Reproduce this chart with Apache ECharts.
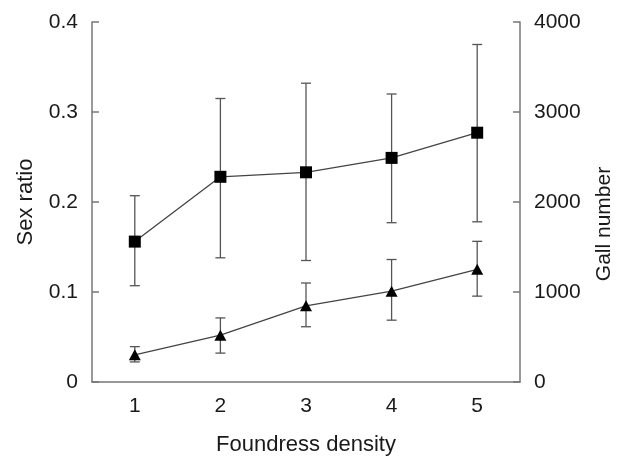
<!DOCTYPE html>
<html>
<head>
<meta charset="utf-8">
<script src="https://cdn.jsdelivr.net/npm/echarts@6/dist/echarts.min.js"></script>
<style>
  html, body { margin: 0; padding: 0; background: #fff; }
  #chart { width: 623px; height: 461px; }
</style>
</head>
<body>
<div id="chart"></div>
<script>
// foundress density on x
const categories = ['1', '2', '3', '4', '5'];
// squares, left axis
const sexRatio = [0.156, 0.228, 0.233, 0.249, 0.277];
const sexRatioLow = [0.107, 0.138, 0.135, 0.177, 0.178];
const sexRatioHigh = [0.207, 0.315, 0.332, 0.320, 0.375];
// triangles, right axis
const gallNumber = [302, 520, 846, 1009, 1252];
const gallLow = [223, 321, 614, 687, 954];
const gallHigh = [393, 712, 1100, 1361, 1563];

const font = 'Liberation Sans, Arial, sans-serif';
const axisColor = '#777';
const textColor = '#1a1a1a';

const chart = echarts.init(document.getElementById('chart'));

// draws a vertical bar with caps for each category
function errorBar(params, api) {
  const lo = api.coord([api.value(0), api.value(1)]);
  const hi = api.coord([api.value(0), api.value(2)]);
  const w = 5;
  const style = { stroke: '#555', lineWidth: 1.3 };
  return {
    type: 'group',
    children: [
      { type: 'line', shape: { x1: lo[0], y1: lo[1], x2: hi[0], y2: hi[1] }, style: style },
      { type: 'line', shape: { x1: lo[0] - w, y1: lo[1], x2: lo[0] + w, y2: lo[1] }, style: style },
      { type: 'line', shape: { x1: hi[0] - w, y1: hi[1], x2: hi[0] + w, y2: hi[1] }, style: style }
    ]
  };
}

const yAxisBase = {
  type: 'value',
  nameLocation: 'middle',
  nameTextStyle: { fontFamily: font, fontSize: 22, color: textColor },
  axisLine: { show: true, lineStyle: { color: axisColor, width: 1.5 } },
  axisTick: { show: true, inside: true, length: 7, lineStyle: { color: axisColor, width: 1.5 } },
  axisLabel: { fontFamily: font, fontSize: 21, color: textColor, margin: 14 },
  splitLine: { show: false }
};

chart.setOption({
  animation: false,
  grid: { left: 92, right: 102, top: 22, bottom: 72 },
  xAxis: {
    type: 'category',
    data: categories,
    boundaryGap: true,
    name: 'Foundress density',
    nameLocation: 'middle',
    nameGap: 52,
    nameTextStyle: { fontFamily: font, fontSize: 22, color: textColor },
    axisLine: { lineStyle: { color: axisColor, width: 1.5 } },
    axisTick: { inside: true, length: 7, interval: 0, lineStyle: { color: axisColor, width: 1.5 } },
    axisLabel: { fontFamily: font, fontSize: 21, color: textColor, margin: 14 }
  },
  yAxis: [
    Object.assign({}, yAxisBase, {
      name: 'Sex ratio', nameGap: 55, min: 0, max: 0.4, interval: 0.1, position: 'left'
    }),
    Object.assign({}, yAxisBase, {
      name: 'Gall number', nameGap: 74, min: 0, max: 4000, interval: 1000, position: 'right',
      nameTextStyle: { fontFamily: font, fontSize: 21, color: textColor, padding: [0, 44, 0, 0] },
      axisLabel: { fontFamily: font, fontSize: 21, color: textColor, margin: 14, formatter: v => String(v) }
    })
  ],
  series: [
    {
      type: 'custom',
      yAxisIndex: 0,
      renderItem: errorBar,
      data: categories.map((c, i) => [i, sexRatioLow[i], sexRatioHigh[i]]),
      z: 1
    },
    {
      type: 'custom',
      yAxisIndex: 1,
      renderItem: errorBar,
      data: categories.map((c, i) => [i, gallLow[i], gallHigh[i]]),
      z: 1
    },
    {
      name: 'Sex ratio',
      type: 'line',
      yAxisIndex: 0,
      data: sexRatio,
      symbol: 'rect',
      symbolSize: 12,
      itemStyle: { color: '#000' },
      lineStyle: { color: '#444', width: 1.3 },
      z: 3
    },
    {
      name: 'Gall number',
      type: 'line',
      yAxisIndex: 1,
      data: gallNumber,
      symbol: 'triangle',
      symbolSize: [12, 11],
      itemStyle: { color: '#000' },
      lineStyle: { color: '#444', width: 1.3 },
      z: 3
    }
  ]
});
</script>
</body>
</html>
